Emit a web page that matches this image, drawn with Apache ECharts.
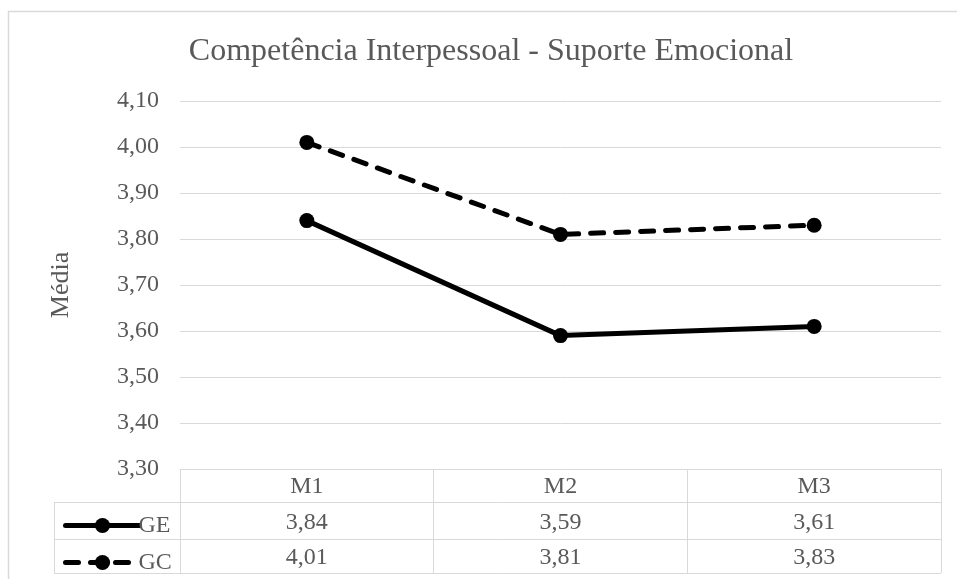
<!DOCTYPE html>
<html>
<head>
<meta charset="utf-8">
<style>
  html, body { margin: 0; padding: 0; background: #ffffff; }
  #chart { width: 957px; height: 579px; }
</style>
<script src="https://cdn.jsdelivr.net/npm/echarts@6/dist/echarts.min.js"></script>
</head>
<body>
<div id="chart"></div>
<script>
// Moments of measurement and group means
const categories = ['M1', 'M2', 'M3'];
const seriesNames = ['GE', 'GC'];
const valuesGE = [3.84, 3.59, 3.61];
const valuesGC = [4.01, 3.81, 3.83];
const yTicks = { min: 3.30, max: 4.10, step: 0.10 };

const FONT = '"Liberation Serif", "Times New Roman", serif';
const TEXT = '#595959';
const RULE = '#d9d9d9';

const fmt = v => v.toFixed(2).replace('.', ',');

const chart = echarts.init(document.getElementById('chart'), null, { renderer: 'canvas' });

const gridLeft = 180, gridRight = 16, gridTop = 101, gridBottom = 110;
const tableLeft = 54;
const rowLines = [502, 539, 573];

const option = {
  backgroundColor: '#ffffff',
  animation: false,
  textStyle: { fontFamily: FONT },
  title: {
    text: 'Competência Interpessoal - Suporte Emocional',
    left: 486,
    top: 31,
    textAlign: 'center',
    textStyle: { fontFamily: FONT, fontSize: 32, fontWeight: 'normal', color: TEXT }
  },
  legend: {
    orient: 'vertical',
    left: 58,
    top: 508,
    height: 70,
    padding: [5, 5, 5, 5],
    itemWidth: 74,
    itemHeight: 19,
    itemGap: 12,
    lineStyle: { width: 5 },
    textStyle: { fontFamily: FONT, fontSize: 24, lineHeight: 25, color: TEXT, padding: [0, 0, 0, -6] },
    data: seriesNames
  },
  grid: { left: gridLeft, right: gridRight, top: gridTop, bottom: gridBottom, containLabel: false },
  xAxis: {
    type: 'category',
    data: categories,
    boundaryGap: true,
    axisLine: { show: true, lineStyle: { color: RULE, width: 1 } },
    axisTick: { show: true, length: 104, lineStyle: { color: RULE, width: 1 } },
    splitLine: { show: false },
    axisLabel: {
      margin: 0,
      interval: 0,
      formatter: (value, idx) => '{c|' + value + '}\n{c|' + fmt(valuesGE[idx]) + '}\n{c|' + fmt(valuesGC[idx]) + '}',
      rich: {
        c: { fontFamily: FONT, fontSize: 24, color: TEXT, lineHeight: 35.5, align: 'center' }
      }
    }
  },
  yAxis: {
    type: 'value',
    min: yTicks.min,
    max: yTicks.max,
    interval: yTicks.step,
    name: 'Média',
    nameLocation: 'middle',
    nameRotate: 90,
    nameGap: 106,
    nameTextStyle: { fontFamily: FONT, fontSize: 26, color: TEXT },
    axisLine: { show: false },
    axisTick: { show: false },
    axisLabel: {
      margin: 21,
      fontFamily: FONT,
      fontSize: 24,
      color: TEXT,
      formatter: v => fmt(v)
    },
    splitLine: { show: true, lineStyle: { color: RULE, width: 1 } }
  },
  series: [
    {
      name: seriesNames[0],
      type: 'line',
      data: valuesGE,
      symbol: 'circle',
      symbolSize: 15,
      color: '#000000',
      lineStyle: { color: '#000000', width: 5, cap: 'round' },
      itemStyle: { color: '#000000' }
    },
    {
      name: seriesNames[1],
      type: 'line',
      data: valuesGC,
      symbol: 'circle',
      symbolSize: 15,
      color: '#000000',
      lineStyle: { color: '#000000', width: 5, type: [13, 12], cap: 'round' },
      itemStyle: { color: '#000000' }
    }
  ]
};

chart.setOption(option);

// Outer frame plus the row and column rules of the data table
const right = chart.convertToPixel({ xAxisIndex: 0 }, categories.length - 1) +
  (chart.convertToPixel({ xAxisIndex: 0 }, 1) - chart.convertToPixel({ xAxisIndex: 0 }, 0)) / 2;
const ruleStyle = { stroke: RULE, lineWidth: 1 };
const elements = [
  { type: 'rect', shape: { x: 8.5, y: 11.5, width: 980, height: 600 }, style: { fill: null, stroke: RULE, lineWidth: 1.5 }, silent: true, z: -1 },
  { type: 'line', shape: { x1: tableLeft + 0.5, y1: rowLines[0], x2: tableLeft + 0.5, y2: rowLines[2] }, style: ruleStyle, silent: true }
];
rowLines.forEach(y => {
  elements.push({ type: 'line', shape: { x1: tableLeft, y1: y + 0.5, x2: right, y2: y + 0.5 }, style: ruleStyle, silent: true });
});
chart.setOption({ graphic: { elements } });
</script>
</body>
</html>
